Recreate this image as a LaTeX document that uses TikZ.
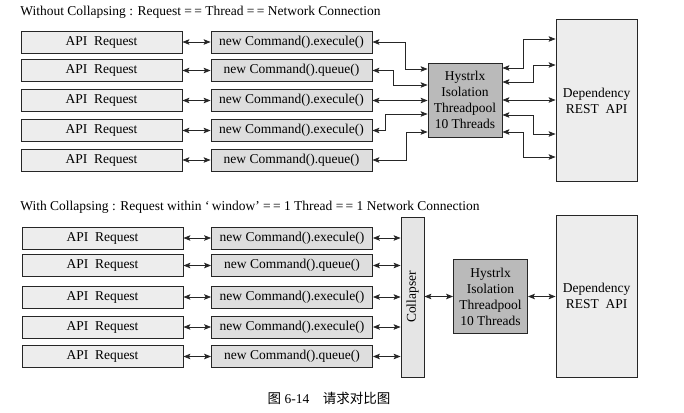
\documentclass[tikz,border=0pt]{standalone}
\usepackage{fontspec}
\setmainfont{Liberation Serif}
\newfontfamily\cjk{Noto Sans CJK SC}
\usepackage{graphicx}
\usetikzlibrary{shapes}
\usetikzlibrary{positioning}
\usetikzlibrary{arrows.meta}

\begin{document}
\begin{tikzpicture}
[x=1pt,y=-1pt,thick,%
  lineDecorate/.style={{Stealth[length=7pt,width=5.5pt,inset=1.5pt]}-{Stealth[length=7pt,width=5.5pt,inset=1.5pt]},thick,black!85},%
  requestDecorate/.style={shape=rectangle,draw=black!85,thick,fill=black!7,minimum width=161pt,minimum height=22pt,inner sep=0pt},%
  commandDecorate/.style={requestDecorate,fill=black!13},%
  poolDecorate/.style={shape=rectangle,draw=black!85,thick,fill=black!27,minimum width=74pt,minimum height=74pt,inner sep=0pt,align=center},%
  apiDecorate/.style={shape=rectangle,draw=black!85,thick,fill=black!7,minimum width=81pt,minimum height=162pt,inner sep=0pt,align=center},%
  collapserDecorate/.style={shape=rectangle,draw=black!85,thick,fill=black!10,minimum width=23pt,minimum height=160pt,inner sep=0pt},%
  titleDecorate/.style={anchor=west,inner sep=0pt}]
\fontsize{13.5}{16}\selectfont
\useasboundingbox (0,0) rectangle (684,412);
%% titles
\node[titleDecorate] (titleA) at (20,12) {Without Collapsing : Request =\,= Thread =\,= Network Connection};
\node[titleDecorate] (titleB) at (20,207) {With Collapsing : Request within `\,window' =\,= 1 Thread =\,= 1 Network Connection};
%% without collapsing: requests and commands
\foreach \nodename/\y/\call in {
  1/42/execule, 2/70.5/queue, 3/100.5/execule, 4/130.5/execule, 5/160/queue}
{
  \node[requestDecorate] (rA\nodename) at (101.5,\y) {API\enspace Request};
  \node[commandDecorate] (cA\nodename) at (291.5,\y) {new Command().\call()};
  \path (rA\nodename) edge[lineDecorate] (cA\nodename);
}
\node[poolDecorate] (hA) at (465,100) {Hystrlx\\Isolation\\Threadpool\\10 Threads};
\node[apiDecorate] (dA) at (596.5,100.5) {Dependency\\REST\enspace API};
%% connect commands to threadpool
\foreach \i/\dx/\dy in {1/33/31, 2/21/15, 4/13/-14, 5/34/-32}
  \draw[lineDecorate] (cA\i.east) -- ++(\dx,0) |- ([yshift=\dy pt]hA.west);
\draw[lineDecorate] (cA3.east) -- (cA3.east -| hA.west);
%% connect threadpool to dependency
\foreach \src/\dx/\dst in {32/21/61.5, 18/31/35.5, -15/31/-33.5, -32/21/-56.5}
  \draw[lineDecorate] ([yshift=\src pt]hA.east) -- ++(\dx,0) |- ([yshift=\dst pt]dA.west);
\draw[lineDecorate] (hA.east) -- (hA.east -| dA.west);
%% with collapsing: requests and commands
\node[collapserDecorate] (col) at (412.5,297) {\rotatebox{90}{Collapser}};
\foreach \nodename/\y/\call in {
  1/238/execule, 2/265.5/queue, 3/297/execule, 4/327/execule, 5/356.5/queue}
{
  \node[requestDecorate] (rB\nodename) at (102.5,\y) {API\enspace Request};
  \node[commandDecorate] (cB\nodename) at (292,\y) {new Command().\call()};
  \path (rB\nodename) edge[lineDecorate] (cB\nodename);
  \draw[lineDecorate] (cB\nodename.east) -- (cB\nodename.east -| col.west);
}
\node[poolDecorate] (hB) at (490.5,296.5) {Hystrlx\\Isolation\\Threadpool\\10 Threads};
\node[apiDecorate] (dB) at (596.5,296) {Dependency\\REST\enspace API};
%% connect collapser, threadpool and dependency
\draw[lineDecorate] (col.east |- hB.west) -- (hB.west);
\draw[lineDecorate] (hB.east) -- (hB.east -| dB.west);
%% caption
\node (caption) at (329,398) {{\cjk 图} 6-14\quad{\cjk 请求对比图}};
\end{tikzpicture}
\end{document}
